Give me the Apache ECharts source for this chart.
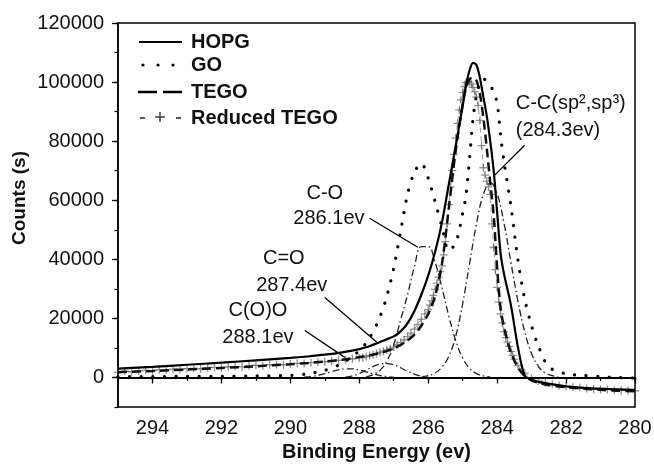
<!DOCTYPE html>
<html>
<head>
<meta charset="utf-8">
<script src="https://cdn.jsdelivr.net/npm/echarts@6/dist/echarts.min.js"></script>
<style>
  html, body { margin: 0; padding: 0; background: #fff; }
  #chart { width: 654px; height: 464px; }
</style>
</head>
<body>
<div id="chart"></div>
<script>
// binding energy grid used by the three measured curves
var energy = [295, 294, 293, 292, 291, 290, 289.5, 289, 288.5, 288, 287.75, 287.5, 287.25, 287,
  286.8, 286.6, 286.4, 286.2, 286, 285.8, 285.6, 285.4, 285.2, 285,
  284.9, 284.8, 284.7, 284.6, 284.5, 284.4, 284.3, 284.2, 284.1, 284,
  283.9, 283.8, 283.6, 283.4, 283.2, 283, 282.8, 282.5, 282, 281.5, 281, 280.5, 280]

var hopg = [3000, 3600, 4300, 5000, 5800, 6600, 7100, 7700, 8500, 9600, 10400, 11500, 12700, 13900,
  15600, 18300, 22500, 28000, 34500, 42500, 52500, 65500, 78500, 92000,
  99000, 104000, 106500, 105800, 101500, 95000, 88500, 80000, 70000, 56000,
  42000, 35000, 24500, 10500, 600, -800, -1500, -2200, -3000, -3500, -3800, -4000, -4200]

var go = [300, 300, 400, 400, 500, 700, 1200, 2400, 4800, 9000, 12500, 17800, 25500, 37000,
  49500, 62000, 69500, 72500, 67500, 59500, 51000, 43000, 45500, 55500,
  62000, 74000, 87500, 95500, 99500, 101000, 100500, 99000, 96500, 93000,
  82000, 73000, 58000, 40000, 26500, 17500, 10500, 3600, 1200, 700, 300, 0, -200]

var tego = [1800, 2200, 2700, 3200, 3800, 4500, 4900, 5400, 6000, 6900, 7400, 8000, 8800, 9800,
  11000, 12500, 14500, 17500, 21500, 27500, 38500, 57500, 77000, 92500,
  98500, 101000, 101500, 100500, 96000, 88000, 77500, 66000, 55000, 37000,
  23500, 17000, 8500, 3500, 500, -1000, -1800, -2600, -3300, -3800, -4200, -4500, -4700]

// reduced TEGO is sampled more densely (drawn as + markers)
var rtEnergy = [295, 294.8, 294.6, 294.4, 294.2, 294, 293.8, 293.6, 293.4, 293.2, 293, 292.8, 292.6, 292.4,
  292.2, 292, 291.8, 291.6, 291.4, 291.2, 291, 290.8, 290.6, 290.4, 290.2, 290, 289.8, 289.6, 289.4,
  289.2, 289, 288.8, 288.6, 288.4, 288.2,
  288, 287.9, 287.8, 287.7, 287.6, 287.5, 287.4, 287.3, 287.2, 287.1, 287, 286.9, 286.8, 286.7,
  286.6, 286.5, 286.4, 286.3, 286.2, 286.1,
  286, 285.95, 285.9, 285.85, 285.8, 285.75, 285.7, 285.65, 285.6, 285.55, 285.5, 285.45, 285.4,
  285.35, 285.3, 285.25, 285.2, 285.15, 285.1, 285.05, 285, 284.95, 284.9, 284.85, 284.8, 284.75,
  284.7, 284.65, 284.6, 284.55, 284.5, 284.45, 284.4, 284.35, 284.3, 284.25, 284.2, 284.15, 284.1,
  284.05, 284, 283.95, 283.9, 283.85, 283.8, 283.75, 283.7, 283.65, 283.6, 283.55, 283.5,
  283.4, 283.2, 283, 282.8, 282.6, 282.4, 282.2, 282, 281.8, 281.6, 281.4, 281.2, 281, 280.8,
  280.6, 280.4, 280.2, 280]

var reducedTego = [1800, 2100, 1900, 2200, 2400, 2300, 2600, 2500, 2800, 2700, 3000, 3100, 2900, 3300,
  3400, 3300, 3600, 3700, 3600, 3900, 4100, 4000, 4300, 4400, 4300, 4600, 4800, 4700, 5000,
  5200, 5300, 5600, 5800, 6000, 6300,
  6600, 6800, 7100, 7400, 7700, 8100, 8500, 8900, 9300, 9800, 10300, 11000, 11800, 12700,
  13800, 15000, 16400, 18000, 19700, 21500,
  23000, 24500, 26000, 27800, 29800, 31900, 34000, 35800, 37800, 41500, 46000, 52000, 58500,
  64500, 70000, 75500, 81000, 86000, 90500, 94000, 96500, 98500, 99800, 100200, 100000, 99300,
  98200, 96800, 95000, 92000, 87000, 78500, 71000, 68500, 66500, 64500, 62000, 52000, 44000,
  36500, 30500, 25500, 21500, 18500, 15500, 13500, 12000, 10500, 8800, 7500, 6200,
  4000, 1500, -300, -1200, -1800, -2300, -2700, -3000, -3300, -3400, -3700, -3900, -4000, -4100,
  -4300, -4300, -4400, -4500]

// fitted components (dash-dot)
var ccEnergy = [286.2, 286, 285.8, 285.6, 285.4, 285.2, 285, 284.8, 284.6, 284.4, 284.2, 284,
  283.8, 283.6, 283.4, 283.2, 283, 282.8, 282.6, 282.4, 282.2]
var ccValue = [0, 600, 1500, 3500, 7200, 14000, 25000, 38500, 52000, 62000, 66000, 62200,
  52200, 39000, 26000, 15500, 8000, 3700, 1500, 600, 0]

var coEnergy = [287.8, 287.6, 287.4, 287.2, 287, 286.8, 286.6, 286.4, 286.2, 286, 285.8, 285.6,
  285.4, 285.2, 285, 284.8, 284.6, 284.4, 284.2]
var coValue = [200, 900, 2400, 5500, 11000, 19500, 28000, 37500, 44300, 44300, 39000, 30300,
  20700, 12400, 6600, 3100, 1300, 500, 100]

var c2oEnergy = [288.4, 288.2, 288, 287.8, 287.6, 287.4, 287.2, 287, 286.8, 286.6, 286.4, 286.2, 286]
var c2oValue = [100, 500, 1300, 2500, 3700, 4500, 4700, 4300, 3300, 2100, 1100, 450, 100]

var cooEnergy = [289.6, 289.4, 289.2, 289, 288.8, 288.6, 288.4, 288.2, 288, 287.8, 287.6, 287.4, 287.2, 287]
var cooValue = [100, 300, 700, 1300, 2000, 2600, 2900, 2900, 2500, 1900, 1200, 650, 300, 100]

var xMajor = [280, 282, 284, 286, 288, 290, 292, 294]
var yMajor = [0, 20000, 40000, 60000, 80000, 100000, 120000]

var FONT = 'Liberation Sans, Arial, sans-serif'

function pairs(xs, ys) {
  return xs.map(function (x, i) { return [x, ys[i]] })
}

var chartDom = document.getElementById('chart')
var myChart = echarts.init(chartDom, null, { renderer: 'canvas' })

var plus = 'path://M4.2,0 L5.8,0 L5.8,4.2 L10,4.2 L10,5.8 L5.8,5.8 L5.8,10 L4.2,10 L4.2,5.8 L0,5.8 L0,4.2 L4.2,4.2 Z'

var fitStyle = { color: '#222', width: 1.3, type: [7, 3, 1.5, 3] }

function label(text, e, v, pos) {
  return {
    coord: [e, v],
    label: { show: true, formatter: text, position: pos || 'inside', distance: 0,
      color: '#111', fontSize: 20, fontFamily: FONT }
  }
}

var option = {
  animation: false,
  backgroundColor: '#fff',
  grid: { left: 118, right: 19, top: 23, bottom: 57, show: true, borderColor: '#000', borderWidth: 1.5,
    outerBoundsMode: 'none' },
  xAxis: [
    {
      type: 'value', min: 280, max: 295, inverse: true,
      name: 'Binding Energy (ev)', nameLocation: 'middle', nameGap: 35,
      nameTextStyle: { fontSize: 20, fontWeight: 'bold', color: '#111', fontFamily: FONT },
      axisLine: { show: true, lineStyle: { color: '#000', width: 1.5 } },
      axisTick: { show: true, length: 6, customValues: xMajor, lineStyle: { color: '#000', width: 1.3 } },
      axisLabel: { customValues: xMajor, fontSize: 20, color: '#111', margin: 11, fontFamily: FONT },
      splitLine: { show: false }
    },
    {
      type: 'value', min: 280, max: 295, inverse: true, interval: 1, position: 'bottom',
      axisLine: { show: false },
      axisTick: { show: true, length: 3.5, lineStyle: { color: '#000', width: 1.2 } },
      axisLabel: { show: false },
      splitLine: { show: false }
    }
  ],
  yAxis: [
    {
      type: 'value', min: -10000, max: 120000,
      axisLine: { show: true, lineStyle: { color: '#000', width: 1.5 } },
      axisTick: { show: true, length: 6, customValues: yMajor, lineStyle: { color: '#000', width: 1.3 } },
      axisLabel: { customValues: yMajor, fontSize: 20, color: '#111', margin: 14, fontFamily: FONT,
        formatter: function (v) { return String(v) } },
      splitLine: { show: false }
    },
    {
      type: 'value', min: -10000, max: 120000, interval: 10000, position: 'left',
      axisLine: { show: false },
      axisTick: { show: true, length: 3.5, lineStyle: { color: '#000', width: 1.2 } },
      axisLabel: { show: false },
      splitLine: { show: false }
    }
  ],
  series: [
    {
      name: 'Reduced TEGO', type: 'line', z: 1, silent: true,
      data: pairs(rtEnergy, reducedTego),
      symbol: plus, symbolSize: 8, showSymbol: true,
      itemStyle: { color: 'rgba(70,70,70,0.6)' },
      lineStyle: { color: 'rgba(90,90,90,0.6)', width: 1, type: [5, 4] }
    },
    { name: 'C-C', type: 'line', z: 2, silent: true, smooth: 0.4, showSymbol: false,
      data: pairs(ccEnergy, ccValue), lineStyle: fitStyle },
    { name: 'C-O', type: 'line', z: 2, silent: true, smooth: 0.4, showSymbol: false,
      data: pairs(coEnergy, coValue), lineStyle: fitStyle },
    { name: 'C=O', type: 'line', z: 2, silent: true, smooth: 0.4, showSymbol: false,
      data: pairs(c2oEnergy, c2oValue), lineStyle: fitStyle },
    { name: 'C(O)O', type: 'line', z: 2, silent: true, smooth: 0.4, showSymbol: false,
      data: pairs(cooEnergy, cooValue), lineStyle: fitStyle },
    {
      name: 'TEGO', type: 'line', z: 3, silent: true, smooth: 0.3, showSymbol: false,
      data: pairs(energy, tego),
      lineStyle: { color: '#111', width: 2.5, type: [9, 5] }
    },
    {
      name: 'GO', type: 'line', z: 4, silent: true, smooth: 0.3, showSymbol: false,
      data: pairs(energy, go),
      lineStyle: { color: '#000', width: 3.2, type: [0.1, 11.5], cap: 'round' }
    },
    {
      name: 'HOPG', type: 'line', z: 5, silent: true, smooth: 0.3, showSymbol: false,
      data: pairs(energy, hopg),
      lineStyle: { color: '#000', width: 2.2 },
      markLine: {
        silent: true, symbol: ['none', 'none'], label: { show: false },
        lineStyle: { color: '#000', width: 1.3, type: 'solid' },
        data: [
          { yAxis: 0, lineStyle: { width: 1.8 } },
          [{ coord: [283.2, 78600] }, { coord: [284.07, 68500] }],
          [{ coord: [287.7, 53900] }, { coord: [286.3, 44100] }],
          [{ coord: [289.0, 27100] }, { coord: [287.49, 11900] }],
          [{ coord: [289.58, 15900] }, { coord: [288.42, 6800] }]
        ]
      },
      markPoint: {
        silent: true, symbol: 'circle', symbolSize: 0,
        itemStyle: { color: 'rgba(0,0,0,0)' },
        data: [
          label('C-C(sp²,sp³)', 283.46, 92900, 'right'),
          label('(284.3ev)', 283.46, 83700, 'right'),
          label('C-O', 289.0, 62400),
          label('286.1ev', 288.88, 53900),
          label('C=O', 290.19, 40300),
          label('287.4ev', 289.96, 31200),
          label('C(O)O', 290.94, 22700),
          label('288.1ev', 290.94, 13600)
        ]
      }
    }
  ],
  graphic: [
    { type: 'text', x: 20, y: 198, rotation: Math.PI / 2,
      style: { text: 'Counts (s)', font: 'bold 19px ' + FONT, fill: '#111',
        align: 'center', verticalAlign: 'middle', textAlign: 'center', textVerticalAlign: 'middle' } },
    // legend
    { type: 'line', shape: { x1: 139, y1: 42, x2: 182, y2: 42 }, style: { stroke: '#000', lineWidth: 2.2 } },
    { type: 'circle', shape: { cx: 143, cy: 65, r: 1.6 }, style: { fill: '#000' } },
    { type: 'circle', shape: { cx: 158, cy: 65, r: 1.6 }, style: { fill: '#000' } },
    { type: 'circle', shape: { cx: 173, cy: 65, r: 1.6 }, style: { fill: '#000' } },
    { type: 'line', shape: { x1: 138, y1: 92, x2: 157, y2: 92 }, style: { stroke: '#000', lineWidth: 2.5 } },
    { type: 'line', shape: { x1: 163, y1: 92, x2: 182, y2: 92 }, style: { stroke: '#000', lineWidth: 2.5 } },
    { type: 'line', shape: { x1: 140, y1: 118, x2: 145, y2: 118 }, style: { stroke: '#222', lineWidth: 1.5 } },
    { type: 'line', shape: { x1: 176, y1: 118, x2: 181, y2: 118 }, style: { stroke: '#222', lineWidth: 1.5 } },
    { type: 'line', shape: { x1: 155, y1: 117, x2: 165, y2: 117 }, style: { stroke: '#333', lineWidth: 1.4 } },
    { type: 'line', shape: { x1: 160, y1: 112, x2: 160, y2: 122 }, style: { stroke: '#333', lineWidth: 1.4 } },
    { type: 'text', x: 191, y: 42, style: { text: 'HOPG', font: 'bold 20px ' + FONT, fill: '#111',
      verticalAlign: 'middle', textVerticalAlign: 'middle' } },
    { type: 'text', x: 191, y: 65, style: { text: 'GO', font: 'bold 20px ' + FONT, fill: '#111',
      verticalAlign: 'middle', textVerticalAlign: 'middle' } },
    { type: 'text', x: 191, y: 92, style: { text: 'TEGO', font: 'bold 20px ' + FONT, fill: '#111',
      verticalAlign: 'middle', textVerticalAlign: 'middle' } },
    { type: 'text', x: 191, y: 118, style: { text: 'Reduced TEGO', font: 'bold 20px ' + FONT, fill: '#111',
      verticalAlign: 'middle', textVerticalAlign: 'middle' } }
  ]
}

option && myChart.setOption(option)
</script>
</body>
</html>
